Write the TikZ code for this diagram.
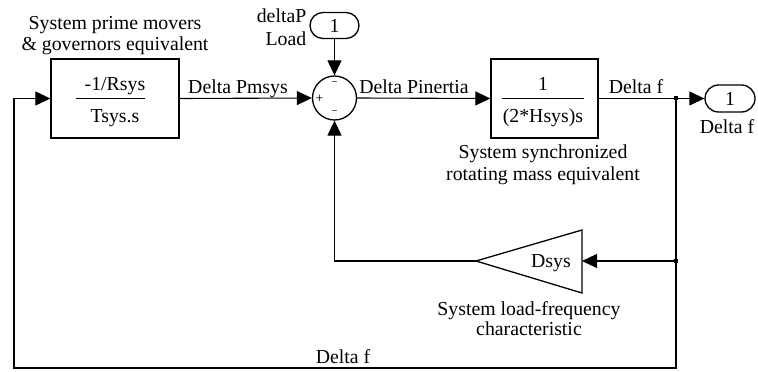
\documentclass[tikz,border=0pt]{standalone}
\usepackage{fontspec}
\setmainfont{Liberation Serif}
\usetikzlibrary{arrows.meta,shapes.misc}
\begin{document}
\begin{tikzpicture}[x=1pt,y=-1pt,
  every node/.style={font=\fontsize{19.8}{21}\selectfont, inner sep=0pt},
  wire/.style={line width=1.1pt},
  sig/.style={wire,-{Triangle[length=15pt,width=14pt]}},
  blockbox/.style={draw,line width=1.3pt,rectangle,minimum width=#1,minimum height=79pt},
  port/.style={draw,line width=1.3pt,rounded rectangle,minimum width=49pt,minimum height=26pt},
  lbl/.style={anchor=base},
  sgn/.style={font=\sffamily\fontsize{9}{9}\selectfont\bfseries},
  branchdot/.style={fill,minimum size=3.5pt,rectangle}
]
\useasboundingbox (0,0) rectangle (758,372);

% blocks
\node[blockbox=128pt] (gov) at (115,98.5) {};
\node[draw,line width=1.3pt,circle,minimum size=44pt] (sum) at (334.5,98) {};
\node[blockbox=107pt] (inertia) at (544.5,98.5) {};
\node[port] (inport) at (334.5,25.5) {1};
\node[port,minimum width=50pt,minimum height=27pt] (outport) at (730,98.5) {1};

% transfer functions inside the blocks
\node[lbl] (govnum) at (115,90.5) {-1/Rsys};
\node[lbl] (govden) at (115,122) {Tsys.s};
\draw[line width=1pt] (76,98) coordinate (govfa) -- (145,98) coordinate (govfb);
\node[lbl] (inum) at (543,90.5) {1};
\node[lbl] (iden) at (543,122) {(2*Hsys)s};
\draw[line width=1pt] (502,98) coordinate (ifa) -- (584,98) coordinate (ifb);

% signs of the summing junction
\node[sgn] (splus) at (319.5,98) {+};
\node[sgn] (stop) at (334.5,83) {--};
\node[sgn] (sbot) at (334.5,112) {--};

% gain block
\coordinate (gtip) at (476,261);
\coordinate (gback) at (582,261);
\draw[line width=1.3pt,line join=miter] (gtip) -- (582,230) -- (582,293) -- cycle;
\node[lbl] (gaintxt) at (551,267.5) {Dsys};

% branch points and wire corners
\coordinate (br1) at (676,98);
\coordinate (br2) at (676,261);
\coordinate (bl) at (14,368);
\coordinate (br) at (676,368);
\coordinate (sumin) at (334.5,261);

% connectors
\draw[sig] (gov.east) -- (sum.west);
\draw[sig] (sum.east) -- (inertia.west);
\draw[sig] (inertia.east) -- (outport.west);
\draw[sig] (inport.south) -- (sum.north);
\draw[sig] (br1) -- (br) -- (bl) -- (bl |- gov.west) -- (gov.west);
\draw[sig] (br2) -- (gback);
\draw[sig] (gtip) -- (sumin) -- (sum.south);
\node[branchdot] (bd1) at (br1) {};
\node[branchdot] (bd2) at (br2) {};

% signal labels
\node[lbl] (lpm) at (238,93.5) {Delta Pmsys};
\node[lbl] (lpi) at (414,93.5) {Delta Pinertia};
\node[lbl] (ldf) at (636,93.5) {Delta f};
\node[lbl] (ldfb) at (343,363) {Delta f};
\node[lbl] (ldfo) at (727,133) {Delta f};
\node[anchor=base east] (ldp) at (306.5,22.5) {deltaP};
\node[anchor=base east] (lload) at (306.5,45) {Load};

% block captions
\node[lbl] (cgov1) at (115,29.5) {System prime movers};
\node[lbl] (cgov2) at (115,50) {\& governors equivalent};
\node[lbl] (cin1) at (543,158) {System synchronized};
\node[lbl] (cin2) at (543,180) {rotating mass equivalent};
\node[lbl] (cg1) at (529,315) {System load-frequency};
\node[lbl] (cg2) at (529,335) {characteristic};
\end{tikzpicture}
\end{document}
